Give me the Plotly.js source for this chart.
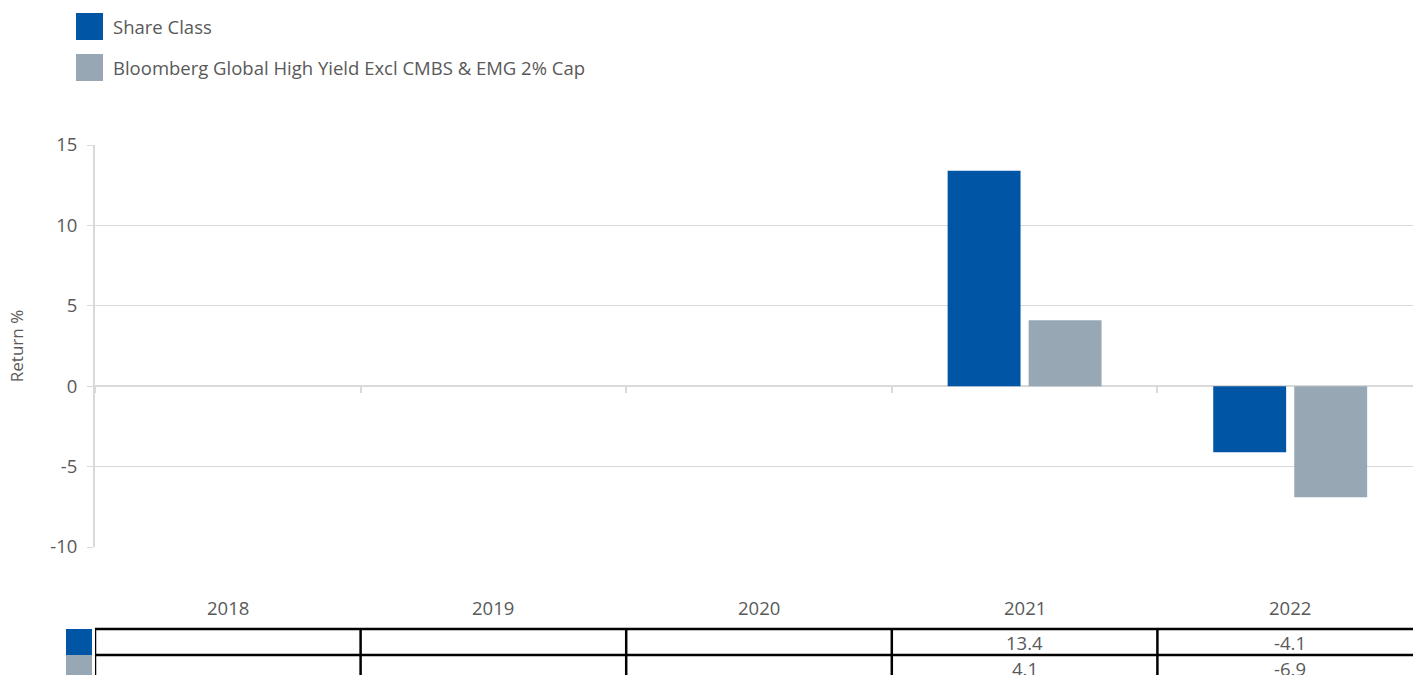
<!DOCTYPE html>
<html>
<head>
<meta charset="utf-8">
<script src="https://cdn.plot.ly/plotly-3.0.1.min.js"></script>
<style>
html,body{margin:0;padding:0;overflow:hidden;background:#fff;}
#chart{width:1423px;height:675px;}
</style>
</head>
<body>
<div id="chart"></div>
<script>
const years = ["2018", "2019", "2020", "2021", "2022"];
const shareClass = [null, null, null, 13.4, -4.1];
const benchmark = [null, null, null, 4.1, -6.9];
const seriesNames = ["Share Class", "Bloomberg Global High Yield Excl CMBS & EMG 2% Cap"];
const seriesColors = ["#0056a4", "#97a8b4"];
const yTicks = [-10, -5, 0, 5, 10, 15];

const W = 1423, H = 675, L = 95, R = 0, T = 145, B = 128;
const pw = W - L - R, ph = H - T - B;
const px = x => (x - L) / pw;          // pixel -> paper x
const py = y => (H - B - y) / ph;      // pixel -> paper y

const txtColor = "#595959";
const FF = "Open Sans, sans-serif";
const font = {family: FF, size: 18.5, color: txtColor};

const traces = [
  {type: "bar", x: years, y: shareClass, name: seriesNames[0], marker: {color: seriesColors[0]}, hoverinfo: "skip"},
  {type: "bar", x: years, y: benchmark, name: seriesNames[1], marker: {color: seriesColors[1]}, hoverinfo: "skip"}
];

const shapes = [];
const annotations = [];

// legend (custom)
seriesNames.forEach((n, i) => {
  const top = i === 0 ? 13 : 54;
  shapes.push({type: "rect", xref: "paper", yref: "paper", x0: px(76), x1: px(103), y0: py(top), y1: py(top + 27),
    fillcolor: seriesColors[i], line: {width: 0}});
  annotations.push({xref: "paper", yref: "paper", x: px(111), y: py(top + 13), xanchor: "left", yanchor: "middle",
    text: n, showarrow: false, font: font});
});

// category labels
years.forEach((yr, i) => {
  annotations.push({xref: "x", yref: "paper", x: i, y: py(607), xanchor: "center", yanchor: "middle",
    text: yr, showarrow: false, font: font});
});

// data table below chart
const rowTop = [629, 655];
const rowBot = 700;
const tableLine = {color: "#000", width: 2.5};
rowTop.forEach(y => {
  shapes.push({type: "line", xref: "paper", yref: "paper", x0: 0, x1: 1, y0: py(y), y1: py(y), line: tableLine});
});
years.forEach((yr, i) => {
  shapes.push({type: "line", xref: "x", yref: "paper", x0: i - 0.5, x1: i - 0.5, y0: py(rowTop[0]), y1: py(rowBot), line: tableLine});
});
[shareClass, benchmark].forEach((vals, r) => {
  const y0 = rowTop[r], y1 = r === 0 ? rowTop[1] : rowBot;
  shapes.push({type: "rect", xref: "paper", yref: "paper", x0: px(66), x1: px(92), y0: py(y0), y1: py(y1),
    fillcolor: seriesColors[r], line: {width: 0}});
  vals.forEach((v, i) => {
    if (v === null) return;
    annotations.push({xref: "x", yref: "paper", x: i, y: py(y0 + 13), xanchor: "center", yanchor: "middle",
      text: v.toFixed(1), showarrow: false, font: font});
  });
});

const layout = {
  width: W, height: H,
  margin: {l: L, r: R, t: T, b: B, pad: 0},
  paper_bgcolor: "#fff", plot_bgcolor: "#fff",
  showlegend: false,
  barmode: "group", bargap: 0.39, bargroupgap: 0.1,
  font: font,
  xaxis: {
    type: "category", categoryarray: years, range: [-0.5, 4.5],
    anchor: "free", position: py(386),
    showline: false, showgrid: false, zeroline: false,
    ticks: "outside", tickson: "boundaries", ticklen: 6, tickcolor: "#d9d9d9", tickwidth: 2,
    showticklabels: false
  },
  yaxis: {
    range: [-10, 15], tickvals: yTicks, ticktext: yTicks.map(String),
    showgrid: true, gridcolor: "#d9d9d9", gridwidth: 1,
    zeroline: true, zerolinecolor: "#d9d9d9", zerolinewidth: 2,
    showline: true, linecolor: "#d9d9d9", linewidth: 2,
    ticks: "outside", ticklen: 6, tickcolor: "#d9d9d9",
    ticklabelstandoff: 6,
    tickfont: {family: FF, size: 18.5, color: txtColor},
    title: {text: "Return %", font: {family: FF, size: 17, color: txtColor}, standoff: 22}
  },
  shapes: shapes,
  annotations: annotations
};

Plotly.newPlot("chart", traces, layout, {displayModeBar: false, staticPlot: true});
</script>
</body>
</html>
